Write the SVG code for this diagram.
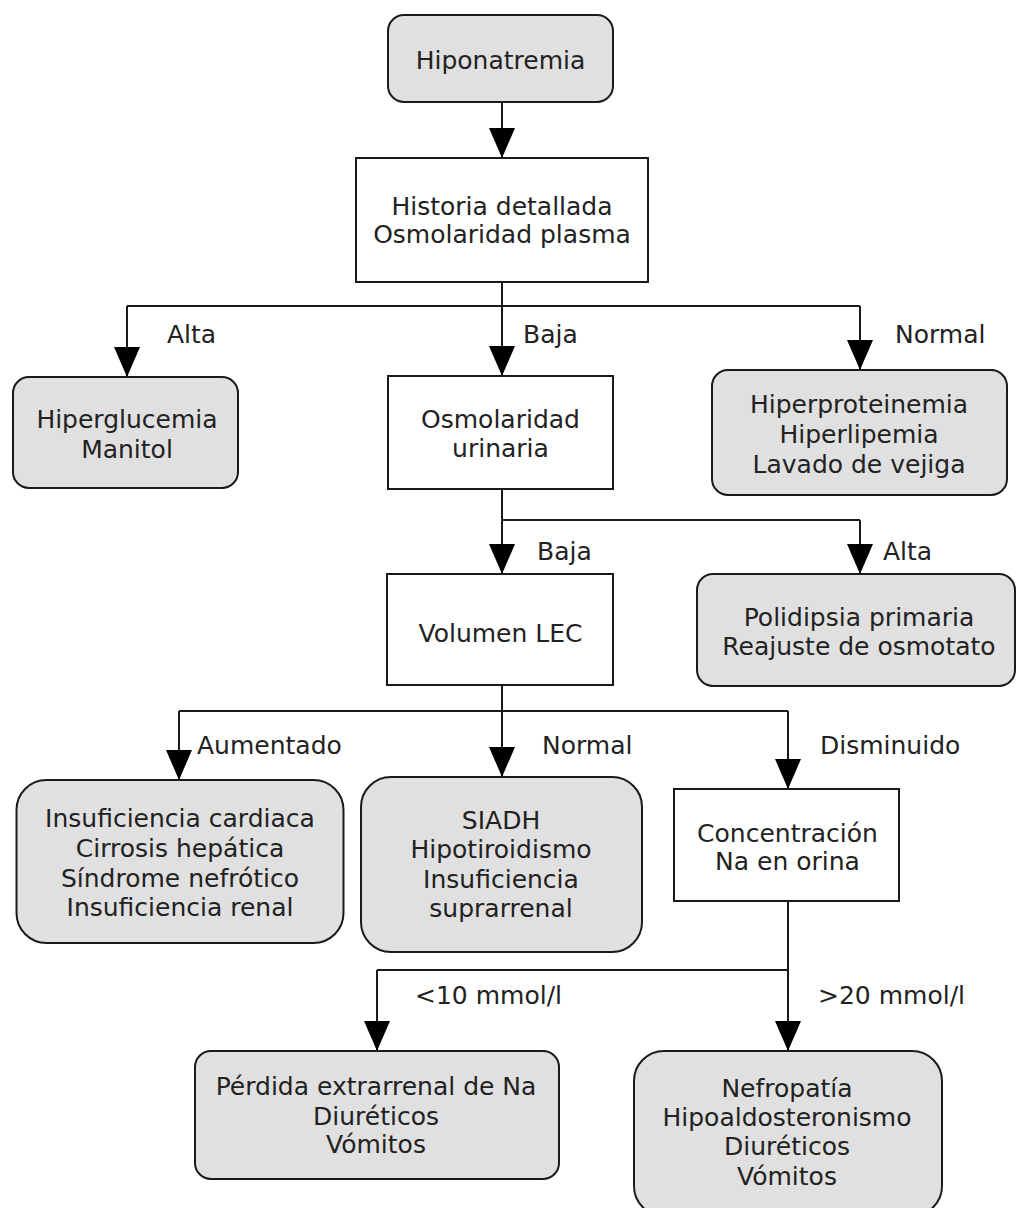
<svg xmlns="http://www.w3.org/2000/svg" width="1017" height="1208" viewBox="0 0 1017 1208">
  <style>
    .box { stroke: #1a1a1a; stroke-width: 2; }
    .term { fill: #e0e0e0; }
    .step { fill: #ffffff; }
    text { font-family: "DejaVu Sans", Verdana, sans-serif; font-size: 25px; fill: #222222; }
    .c { text-anchor: middle; }
    .edge { fill: none; stroke: #1a1a1a; stroke-width: 2; }
  </style>
  <defs>
    <marker id="arrow" viewBox="0 0 30 26" refX="30" refY="13" markerWidth="30" markerHeight="26" markerUnits="userSpaceOnUse" orient="auto">
      <path d="M0,0 L30,13 L0,26 Z" fill="#000000"/>
    </marker>
  </defs>
  <rect width="1017" height="1208" fill="#ffffff"/>

  <!-- connectors -->
  <g id="connectors">
    <path class="edge" d="M502,102 V158" marker-end="url(#arrow)"/>
    <path class="edge" d="M502,282 V306 M127,306 H860"/>
    <path class="edge" d="M127,306 V377" marker-end="url(#arrow)"/>
    <path class="edge" d="M502,306 V376" marker-end="url(#arrow)"/>
    <path class="edge" d="M860,306 V370" marker-end="url(#arrow)"/>
    <path class="edge" d="M502,489 V520 H860"/>
    <path class="edge" d="M502,520 V574" marker-end="url(#arrow)"/>
    <path class="edge" d="M860,520 V574" marker-end="url(#arrow)"/>
    <path class="edge" d="M502,685 V711 M179,711 H788"/>
    <path class="edge" d="M179,711 V780" marker-end="url(#arrow)"/>
    <path class="edge" d="M502,711 V777" marker-end="url(#arrow)"/>
    <path class="edge" d="M788,711 V789" marker-end="url(#arrow)"/>
    <path class="edge" d="M788,901 V970 H377"/>
    <path class="edge" d="M377,970 V1051" marker-end="url(#arrow)"/>
    <path class="edge" d="M788,970 V1051" marker-end="url(#arrow)"/>
    <!-- branch labels -->
    <text x="167" y="343">Alta</text>
    <text x="523" y="343">Baja</text>
    <text x="895" y="343">Normal</text>
    <text x="537" y="560">Baja</text>
    <text x="883" y="560">Alta</text>
    <text x="197" y="754">Aumentado</text>
    <text x="542" y="754">Normal</text>
    <text x="820" y="754">Disminuido</text>
    <text x="415" y="1004">&lt;10 mmol/l</text>
    <text x="818" y="1004">&gt;20 mmol/l</text>
  </g>

  <g id="hiponatremia">
    <rect class="box term" x="388" y="15" width="225" height="87" rx="16"/>
    <text class="c" x="500.5" y="69">Hiponatremia</text>
  </g>

  <g id="historia">
    <rect class="box step" x="356" y="158" width="292" height="124"/>
    <text class="c" x="502" y="215">Historia detallada</text>
    <text class="c" x="502" y="243">Osmolaridad plasma</text>
  </g>

  <g id="osm-alta">
    <rect class="box term" x="13" y="377" width="225" height="111" rx="16"/>
    <text class="c" x="127" y="428">Hiperglucemia</text>
    <text class="c" x="127" y="458">Manitol</text>
  </g>

  <g id="osm-urinaria">
    <rect class="box step" x="388" y="376" width="225" height="113"/>
    <text class="c" x="500.5" y="428">Osmolaridad</text>
    <text class="c" x="500.5" y="457">urinaria</text>
  </g>

  <g id="osm-normal">
    <rect class="box term" x="712" y="370" width="295" height="125" rx="16"/>
    <text class="c" x="859" y="413">Hiperproteinemia</text>
    <text class="c" x="859" y="443">Hiperlipemia</text>
    <text class="c" x="859" y="473">Lavado de vejiga</text>
  </g>

  <g id="volumen-lec">
    <rect class="box step" x="387" y="574" width="226" height="111"/>
    <text class="c" x="500.5" y="642">Volumen LEC</text>
  </g>

  <g id="uri-alta">
    <rect class="box term" x="697" y="574" width="318" height="112" rx="16"/>
    <text class="c" x="859" y="626">Polidipsia primaria</text>
    <text class="c" x="859" y="655">Reajuste de osmotato</text>
  </g>

  <g id="lec-aumentado">
    <rect class="box term" x="16.5" y="780" width="327" height="163" rx="30"/>
    <text class="c" x="180" y="827">Insuficiencia cardiaca</text>
    <text class="c" x="180" y="857">Cirrosis hepática</text>
    <text class="c" x="180" y="887">Síndrome nefrótico</text>
    <text class="c" x="180" y="916">Insuficiencia renal</text>
  </g>

  <g id="lec-normal">
    <rect class="box term" x="361" y="777" width="281" height="175" rx="30"/>
    <text class="c" x="501" y="829">SIADH</text>
    <text class="c" x="501" y="858">Hipotiroidismo</text>
    <text class="c" x="501" y="888">Insuficiencia</text>
    <text class="c" x="501" y="917">suprarrenal</text>
  </g>

  <g id="na-orina">
    <rect class="box step" x="674" y="789" width="225" height="112"/>
    <text class="c" x="787.5" y="842">Concentración</text>
    <text class="c" x="787.5" y="870">Na en orina</text>
  </g>

  <g id="na-bajo">
    <rect class="box term" x="195" y="1051" width="364" height="128" rx="16"/>
    <text class="c" x="376" y="1095">Pérdida extrarrenal de Na</text>
    <text class="c" x="376" y="1125">Diuréticos</text>
    <text class="c" x="376" y="1153">Vómitos</text>
  </g>

  <g id="na-alto">
    <rect class="box term" x="634" y="1051" width="308" height="165" rx="30"/>
    <text class="c" x="787" y="1097">Nefropatía</text>
    <text class="c" x="787" y="1126">Hipoaldosteronismo</text>
    <text class="c" x="787" y="1155">Diuréticos</text>
    <text class="c" x="787" y="1185">Vómitos</text>
  </g>
</svg>
